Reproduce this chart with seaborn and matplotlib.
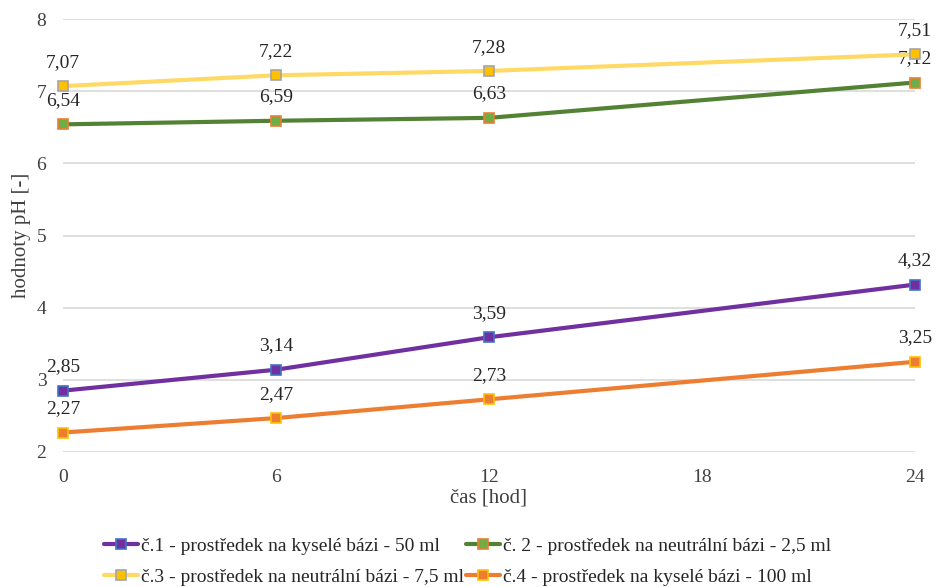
import matplotlib
matplotlib.use("Agg")
import matplotlib.pyplot as plt
import seaborn as sns
import pandas as pd

# time points [h] and measured pH for each product
hours = [0, 6, 12, 24]
ph_c1 = [2.85, 3.14, 3.59, 4.32]
ph_c2 = [6.54, 6.59, 6.63, 7.12]
ph_c3 = [7.07, 7.22, 7.28, 7.51]
ph_c4 = [2.27, 2.47, 2.73, 3.25]

labels = [
    "č.1 - prostředek na kyselé bázi - 50 ml",
    "č. 2 - prostředek na neutrální bázi - 2,5 ml",
    "č.3 - prostředek na neutrální bázi - 7,5 ml",
    "č.4 - prostředek na kyselé bázi - 100 ml",
]
x_ticks = [0, 6, 12, 18, 24]
y_ticks = [2, 3, 4, 5, 6, 7, 8]

# line colour, marker face, marker edge
styles = [
    ("#7030A0", "#7030A0", "#4472C4"),
    ("#548235", "#70AD47", "#ED7D31"),
    ("#FFD966", "#FFC000", "#A5A5A5"),
    ("#ED7D31", "#ED7D31", "#FFC000"),
]

sns.set_theme(style="white")
plt.rcParams["font.family"] = ["Liberation Serif", "DejaVu Serif"]

fig = plt.figure(figsize=(9.36, 5.87), dpi=100)
ax = fig.add_axes([63 / 936, 1 - 452 / 587, (915 - 63) / 936, (452 - 19) / 587])

series = [ph_c1, ph_c2, ph_c3, ph_c4]
for vals, lab, (lc, fc, ec) in zip(series, labels, styles):
    df = pd.DataFrame({"hod": hours, "pH": vals})
    sns.lineplot(data=df, x="hod", y="pH", ax=ax, color=lc, linewidth=3,
                 marker="s", markersize=7.5, markerfacecolor=fc,
                 markeredgecolor=ec, markeredgewidth=1.2, label=lab,
                 clip_on=False, zorder=3)
    for xv, yv in zip(hours, vals):
        ax.annotate(f"{yv:.2f}".replace(".", ","), (xv, yv),
                    xytext=(0, 11), textcoords="offset points",
                    ha="center", va="bottom", fontsize=14, color="#262626")

ax.set_xlim(0, 24)
ax.set_ylim(2, 8)
ax.set_xticks(x_ticks)
ax.set_yticks(y_ticks)
ax.tick_params(axis="both", labelsize=14, colors="#404040", length=0)
ax.tick_params(axis="x", pad=12)
ax.tick_params(axis="y", pad=12)
ax.grid(axis="y", color="#D9D9D9", linewidth=1.2)
ax.grid(axis="x", visible=False)
for s in ax.spines.values():
    s.set_visible(False)

ax.set_xlabel("čas [hod]", fontsize=15, color="#404040", labelpad=2)
ax.set_ylabel("hodnoty pH [-]", fontsize=15, color="#404040", labelpad=4)

# legend reads row by row: 1, 2 / 3, 4
handles, labs = ax.get_legend_handles_labels()
order = [0, 2, 1, 3]
ax.legend([handles[i] for i in order], [labs[i] for i in order], ncol=2,
          loc="upper center", bbox_to_anchor=(0.475, -0.165), frameon=False,
          fontsize=14, handlelength=1.75, handletextpad=0.15,
          columnspacing=0.1, labelspacing=0.72, borderpad=0.2)

fig.savefig("out.png", dpi=100)
